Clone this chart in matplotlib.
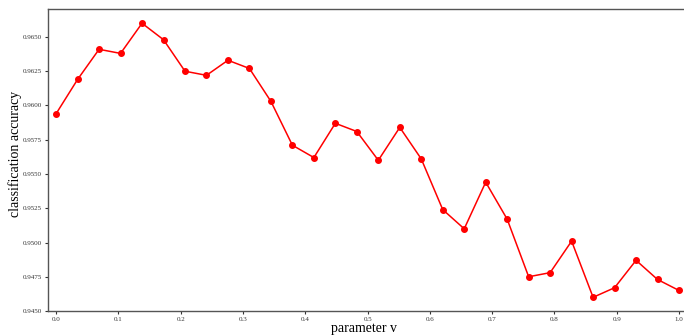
import numpy as np
from matplotlib import pyplot as plt

# parameter v, 30 evenly spaced values between 0 and 1
param_v = np.linspace(0.0, 1.0, 30)
accuracy = [0.9594, 0.9619, 0.9641, 0.9638, 0.9660, 0.9648, 0.9625, 0.9622,
            0.9633, 0.9627, 0.9603, 0.9571, 0.9562, 0.9587, 0.9581, 0.9560,
            0.9584, 0.9561, 0.9524, 0.9510, 0.9544, 0.9517, 0.9475, 0.9478,
            0.9501, 0.9460, 0.9467, 0.9487, 0.9473, 0.9465]
x_ticks = [0.0, 0.1, 0.2, 0.3, 0.4, 0.5, 0.6, 0.7, 0.8, 0.9, 1.0]
y_ticks = [0.9450, 0.9475, 0.9500, 0.9525, 0.9550, 0.9575, 0.9600, 0.9625, 0.9650]

fig = plt.figure(figsize=(6.84, 3.35), dpi=100)
ax = fig.add_axes([0.0702, 0.0716, 0.9298, 0.9015])

ax.plot(param_v, accuracy, color='red', linewidth=1.1, marker='o', markersize=4)

ax.set_xlim(-0.013, 1.008)
ax.set_ylim(0.9450, 0.96704)
ax.set_xticks(x_ticks)
ax.set_xticklabels(['{:.1f}'.format(t) for t in x_ticks])
ax.set_yticks(y_ticks)
ax.set_yticklabels(['{:.4f}'.format(t) for t in y_ticks])
ax.tick_params(labelsize=5, length=2.5, width=0.8, colors='#333333', pad=2)
for lbl in ax.get_xticklabels() + ax.get_yticklabels():
    lbl.set_family('Liberation Serif')

for side in ['left', 'bottom', 'top']:
    ax.spines[side].set_color('#555555')
    ax.spines[side].set_linewidth(1.0)
ax.spines['right'].set_visible(False)

ax.set_xlabel('parameter v', family='Liberation Serif', fontsize=10, va='center')
ax.set_ylabel('classification accuracy', family='Liberation Serif', fontsize=10, va='center')
ax.xaxis.set_label_coords(0.497, -0.058)
ax.yaxis.set_label_coords(-0.052, 0.52)

fig.savefig('out.png', dpi=100)
